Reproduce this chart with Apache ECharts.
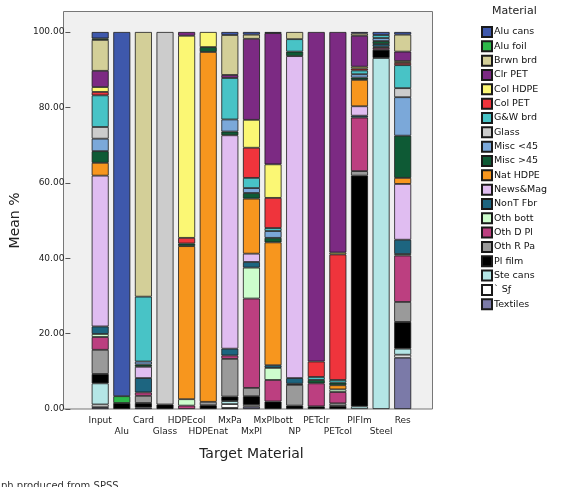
<!DOCTYPE html>
<html>
<head>
<meta charset="utf-8">
<script src="https://cdn.jsdelivr.net/npm/echarts@6/dist/echarts.min.js"></script>
<style>
html, body { margin: 0; padding: 0; background: #fff; }
#chart { width: 582px; height: 487px; }
</style>
</head>
<body>
<div id="chart"></div>
<script>
var categories = ['Input', 'Alu', 'Card', 'Glass', 'HDPEcol', 'HDPEnat', 'MxPa', 'MxPl', 'MxPlbott', 'NP', 'PETclr', 'PETcol', 'PlFlm', 'Steel', 'Res'];
var yTicks = [0, 20, 40, 60, 80, 100];

// mean % per target material, one array per material
var aluCans  = [1.7, 96.6, 0, 0, 0, 0, 0.8, 0.7, 0.3, 0, 0, 0, 0.4, 0.8, 0.7];
var aluFoil  = [0.4, 1.8, 0, 0, 0, 0, 0, 0, 0, 0, 0, 0, 0, 0, 0];
var brwnBrd  = [8.2, 0, 70.2, 0, 0, 0, 10.6, 1.1, 0, 1.9, 0, 0, 0.6, 0, 4.5];
var clrPet   = [4.3, 0, 0, 0, 1.0, 0, 0.8, 21.5, 34.8, 0, 87.4, 58.5, 8.2, 0, 2.5];
var colHdpe  = [1.3, 0, 0, 0, 53.6, 4.0, 0, 7.4, 8.9, 0, 0, 0.5, 0.5, 0, 0.5];
var colPet   = [0.9, 0, 0, 0, 1.5, 0, 0, 8.0, 8.0, 0, 4.1, 33.3, 0.5, 0, 0.6];
var gwBrd    = [8.4, 0, 17.2, 0, 0, 0, 11.0, 2.7, 0.8, 3.3, 0.8, 0.7, 1.0, 0.8, 6.1];
var glass    = [3.1, 0, 0, 98.8, 0, 0, 0, 0, 0, 0, 0, 0, 0, 0, 2.4];
var miscLt45 = [3.3, 0, 0.8, 0, 0, 0, 3.2, 1.3, 1.8, 0, 0, 0, 0.9, 0.8, 10.2];
var miscGt45 = [3.1, 0, 0.6, 0, 0.7, 1.3, 1.0, 1.5, 1.2, 1.2, 0.9, 0.7, 0.6, 0.8, 11.2];
var natHdpe  = [3.4, 0, 0, 0, 40.6, 92.8, 0, 14.6, 32.6, 0, 0, 1.1, 7.0, 0, 1.6];
var newsMag  = [40.0, 0, 3.0, 0, 0, 0, 56.6, 2.2, 0, 85.4, 0, 0, 2.5, 0, 14.8];
var nonTFbr  = [2.0, 0, 3.8, 0, 0, 0, 1.8, 1.5, 0.7, 1.5, 0, 0, 0.5, 0.7, 3.8];
var othBott  = [0.8, 0, 0, 0, 1.7, 0, 0, 8.2, 3.2, 0, 0, 0.7, 0, 0.3, 0.4];
var othDPl   = [3.4, 0, 0.9, 0, 0.9, 0, 0.9, 23.7, 5.7, 0.3, 6.1, 3.0, 14.2, 0.5, 12.3];
var othRPa   = [6.4, 0, 1.9, 0, 0, 0.9, 10.0, 2.2, 0, 5.5, 0, 0.7, 1.2, 0, 5.3];
var plFilm   = [2.5, 1.6, 1.2, 1.2, 0, 1.0, 1.2, 2.3, 2.0, 0.9, 0.7, 0.8, 61.2, 2.2, 7.1];
var steCans  = [5.6, 0, 0, 0, 0, 0, 0.8, 0, 0, 0, 0, 0, 0.7, 93.1, 1.6];
var sf       = [0.7, 0, 0, 0, 0, 0, 1.0, 0.5, 0, 0, 0, 0, 0, 0, 0.8];
var textiles = [0.5, 0, 0.4, 0, 0, 0, 0.3, 0.6, 0, 0, 0, 0, 0, 0, 13.6];

// legend order (top of stack first)
var materials = [
    ['Alu cans', aluCans, '#3e58ac'],
    ['Alu foil', aluFoil, '#2db84a'],
    ['Brwn brd', brwnBrd, '#d3cf98'],
    ['Clr PET', clrPet, '#7c2a83'],
    ['Col HDPE', colHdpe, '#fbf774'],
    ['Col PET', colPet, '#ef343c'],
    ['G&W brd', gwBrd, '#48c3c6'],
    ['Glass', glass, '#cccccc'],
    ['Misc <45', miscLt45, '#7ba8d9'],
    ['Misc >45', miscGt45, '#0e5a35'],
    ['Nat HDPE', natHdpe, '#f7961e'],
    ['News&Mag', newsMag, '#e0bdf1'],
    ['NonT Fbr', nonTFbr, '#1d6580'],
    ['Oth bott', othBott, '#cdfdcd'],
    ['Oth D Pl', othDPl, '#bc3f80'],
    ['Oth R Pa', othRPa, '#9a9a9a'],
    ['Pl film', plFilm, '#000000'],
    ['Ste cans', steCans, '#b4e6e6'],
    ['` Sƒ', sf, '#ffffff'],
    ['Textiles', textiles, '#7b7aa8']
];

var font = 'DejaVu Sans, Verdana, sans-serif';

var series = [];
for (var i = materials.length - 1; i >= 0; i--) {
    var m = materials[i];
    series.push({
        name: m[0],
        type: 'bar',
        stack: 'total',
        barWidth: 17,
        xAxisIndex: 0,
        itemStyle: { color: m[2], borderColor: '#1a1a1a', borderWidth: 0.8 },
        data: m[1].map(function(v){ return v === 0 ? null : v; })
    });
}

var evenIdx = function(i){ return i % 2 === 0; };
var oddIdx = function(i){ return i % 2 === 1; };

var option = {
    animation: false,
    textStyle: { fontFamily: font },
    graphic: [
        {
            type: 'rect', z: -10,
            shape: { x: 63.5, y: 11.5, width: 369, height: 397.5 },
            style: { fill: '#f0f0f0', stroke: '#777', lineWidth: 1 }
        },
        {
            type: 'text', left: 492, top: 6,
            style: { text: 'Material', font: '11px ' + font, fill: '#222' }
        },
        {
            type: 'text', left: 1, top: 481,
            style: { text: 'ph produced from SPSS', font: '10px ' + font, fill: '#333' }
        }
    ],
    legend: {
        orient: 'vertical',
        left: 481,
        top: 26,
        padding: 0,
        itemWidth: 10,
        itemHeight: 10,
        itemGap: 2.33,
        icon: 'rect',
        data: materials.map(function(m){ return m[0]; }),
        textStyle: { fontSize: 9.5, color: '#111', lineHeight: 10, padding: [0, 0, 0, -3], fontFamily: font }
    },
    grid: { left: 82, top: 32, width: 331.5, height: 377 },
    xAxis: [
        {
            type: 'category',
            data: categories,
            axisLine: { show: false },
            axisTick: { alignWithLabel: true, length: 5, interval: evenIdx, lineStyle: { color: '#555' } },
            axisLabel: { interval: evenIdx, fontSize: 9, color: '#222', margin: 7 },
            name: 'Target Material',
            nameLocation: 'middle',
            nameGap: 38,
            nameTextStyle: { fontSize: 14, color: '#222' }
        },
        {
            type: 'category',
            data: categories,
            position: 'bottom',
            offset: 0,
            axisLine: { show: false },
            axisTick: { alignWithLabel: true, length: 17, interval: oddIdx, lineStyle: { color: '#555' } },
            axisLabel: { interval: oddIdx, fontSize: 9, color: '#222', margin: 18 }
        }
    ],
    yAxis: {
        type: 'value',
        min: yTicks[0],
        max: yTicks[yTicks.length - 1],
        interval: yTicks[1] - yTicks[0],
        offset: 19,
        splitLine: { show: false },
        axisLine: { show: false },
        axisTick: { show: true, length: 5, lineStyle: { color: '#555' } },
        axisLabel: { fontSize: 9, color: '#222', margin: 6, formatter: function(v){ return v.toFixed(2); } },
        name: 'Mean %',
        nameLocation: 'middle',
        nameGap: 35,
        nameTextStyle: { fontSize: 14, color: '#222' }
    },
    series: series
};

var myChart = echarts.init(document.getElementById('chart'));
myChart.setOption(option);
</script>
</body>
</html>
